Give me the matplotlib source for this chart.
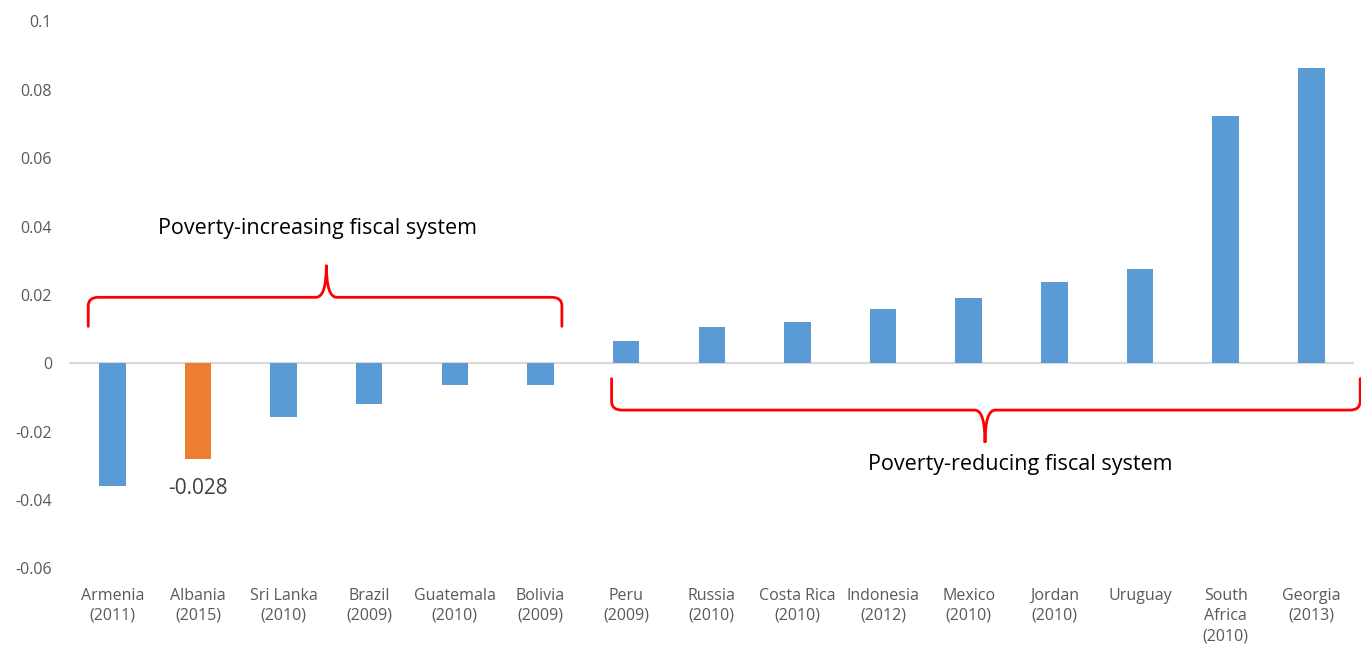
import matplotlib.pyplot as plt
from matplotlib.path import Path
from matplotlib.patches import PathPatch

# ---------------------------
# Data
# ---------------------------
countries = ["Armenia\n(2011)", "Albania\n(2015)", "Sri Lanka\n(2010)", "Brazil\n(2009)",
             "Guatemala\n(2010)", "Bolivia\n(2009)", "Peru\n(2009)", "Russia\n(2010)",
             "Costa Rica\n(2010)", "Indonesia\n(2012)", "Mexico\n(2010)", "Jordan\n(2010)",
             "Uruguay", "South\nAfrica\n(2010)", "Georgia\n(2013)"]
values = [-0.036, -0.028, -0.0157, -0.012, -0.0064, -0.0064, 0.0066, 0.0106,
          0.0121, 0.0158, 0.0191, 0.0237, 0.0275, 0.0722, 0.0863]
highlight = "Albania\n(2015)"

y_ticks = [-0.06, -0.04, -0.02, 0, 0.02, 0.04, 0.06, 0.08, 0.1]
y_tick_labels = ["-0.06", "-0.04", "-0.02", "0", "0.02", "0.04", "0.06", "0.08", "0.1"]

BLUE = "#5B9BD5"
ORANGE = "#ED7D31"
RED = "#FF0000"

plt.rcParams['font.family'] = ['Open Sans', 'DejaVu Sans']


def brace(ax, x0, x1, y_end, y_mid, y_tip, x_tip, rx=0.12, ry=0.0025):
    # curly bracket: ends at y_end, horizontal run at y_mid, cusp pointing to y_tip
    s = 1 if y_tip > y_mid else -1
    verts = [
        (x0, y_end),
        (x0, y_mid - s * ry), (x0, y_mid), (x0 + rx, y_mid),
        (x_tip - rx, y_mid), (x_tip, y_mid), (x_tip, y_tip),
        (x_tip, y_mid), (x_tip + rx, y_mid),
        (x1 - rx, y_mid), (x1, y_mid), (x1, y_mid - s * ry),
        (x1, y_end),
    ]
    codes = [Path.MOVETO,
             Path.LINETO, Path.CURVE3, Path.CURVE3,
             Path.LINETO, Path.CURVE3, Path.CURVE3,
             Path.CURVE3, Path.CURVE3,
             Path.LINETO, Path.CURVE3, Path.CURVE3,
             Path.LINETO]
    ax.add_patch(PathPatch(Path(verts, codes), fill=False, edgecolor=RED,
                           linewidth=2, clip_on=False, capstyle='round'))


# ---------------------------
# Plot
# ---------------------------
fig = plt.figure(figsize=(13.61, 6.51), dpi=100)
ax = fig.add_axes([0.051, 0.127, 0.944, 0.84])

colors = [ORANGE if c == highlight else BLUE for c in countries]
x = range(len(countries))
ax.bar(x, values, width=0.31, color=colors, zorder=3)
ax.axhline(0, color="#D9D9D9", linewidth=1.6, zorder=2)

ax.set_xlim(-0.5, len(countries) - 0.5)
ax.set_ylim(-0.06, 0.1)
ax.set_yticks(y_ticks)
ax.set_yticklabels(y_tick_labels)
ax.set_xticks(list(x))
ax.set_xticklabels(countries, linespacing=1.35, va="top")

for side in ["top", "right", "bottom", "left"]:
    ax.spines[side].set_visible(False)
ax.tick_params(axis="both", length=0, labelsize=11.5, colors="#595959")
ax.tick_params(axis="x", pad=14)
ax.tick_params(axis="y", pad=12.5)

# value label for the highlighted bar
hi = countries.index(highlight)
ax.text(hi, values[hi] - 0.0085, f"{values[hi]:.3f}", ha="center", va="center",
        fontsize=15, color="#404040")

# group braces and captions
brace(ax, -0.28, 5.25, 0.0108, 0.0193, 0.0288, 2.5)
ax.text(2.4, 0.0393, "Poverty-increasing fiscal system", ha="center", va="center",
        fontsize=15.5, color="black")

brace(ax, 5.83, 14.57, -0.0045, -0.0137, -0.0232, 10.19)
ax.text(10.6, -0.0296, "Poverty-reducing fiscal system", ha="center", va="center",
        fontsize=15.5, color="black")

plt.savefig("out.png", dpi=100)
